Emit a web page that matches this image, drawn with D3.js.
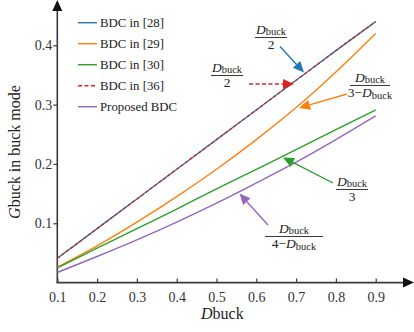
<!DOCTYPE html>
<html>
<head>
<meta charset="utf-8">
<script src="https://cdnjs.cloudflare.com/ajax/libs/d3/7.8.5/d3.min.js"></script>
<style>
  body { margin: 0; background: #fff; }
  svg, svg text { font-family: 'Liberation Serif', 'Times New Roman', serif !important; }
</style>
</head>
<body>
<div id="chart"></div>
<script>
// duty ratio samples
const dBuck = [0.1, 0.2, 0.3, 0.4, 0.5, 0.6, 0.7, 0.8, 0.9];
// gain values
const bdc28 = [0.041, 0.091, 0.141, 0.191, 0.241, 0.291, 0.341, 0.391, 0.440];
const bdc29 = [0.026, 0.062, 0.102, 0.145, 0.191, 0.241, 0.295, 0.355, 0.420];
const bdc30 = [0.025, 0.058, 0.091, 0.124, 0.158, 0.191, 0.224, 0.258, 0.291];
const bdc36 = [0.041, 0.091, 0.141, 0.191, 0.241, 0.291, 0.341, 0.391, 0.440];
const proposed = [0.017, 0.044, 0.072, 0.102, 0.134, 0.168, 0.203, 0.241, 0.281];

const legendLabels = ["BDC in [28]", "BDC in [29]", "BDC in [30]", "BDC in [36]", "Proposed BDC"];
const xTicks = [0.1, 0.2, 0.3, 0.4, 0.5, 0.6, 0.7, 0.8, 0.9];
const yTicks = [0.1, 0.2, 0.3, 0.4];

const W = 414, H = 332;
const colors = { blue: "#1f77b4", orange: "#ff7f0e", green: "#2ca02c", red: "#d62728", purple: "#9467bd" };

const svg = d3.select("#chart").append("svg")
  .attr("width", W).attr("height", H);

const x = d3.scaleLinear().domain([0.1, 0.9]).range([57.3, 375.7]);
const y = d3.scaleLinear().domain([0, 0.4]).range([282.6, 45.3]);

const axisColor = "#3a3a3a";

// y axis line + arrow
svg.append("line").attr("x1", 57.3).attr("x2", 57.3).attr("y1", 283).attr("y2", 8)
  .attr("stroke", axisColor).attr("stroke-width", 1.6);
svg.append("path").attr("d", "M57.3,0 L52.3,11 L62.3,11 Z").attr("fill", "#111");

// x axis line + arrow
svg.append("line").attr("x1", 56.5).attr("x2", 406).attr("y1", 282.6).attr("y2", 282.6)
  .attr("stroke", axisColor).attr("stroke-width", 1.6);
svg.append("path").attr("d", "M414,282.6 L403,277.6 L403,287.6 Z").attr("fill", "#111");

// ticks
const xAxis = d3.axisBottom(x).tickValues(xTicks).tickSize(-4).tickPadding(9.5)
  .tickFormat(d3.format(".1f"));
const gx = svg.append("g").attr("transform", "translate(0,282.6)").call(xAxis)
  .attr("font-size", 14).attr("font-family", null);
gx.select(".domain").remove();
gx.selectAll(".tick line").attr("stroke", axisColor).attr("stroke-width", 1.2);
gx.selectAll(".tick text").attr("fill", "#333");

const yAxis = d3.axisLeft(y).tickValues(yTicks).tickSize(4).tickPadding(1)
  .tickFormat(d3.format(".1f"));
const gy = svg.append("g").attr("transform", "translate(57.3,0)").call(yAxis)
  .attr("font-size", 14).attr("font-family", null);
gy.select(".domain").remove();
gy.selectAll(".tick line").attr("stroke", axisColor).attr("stroke-width", 1.2);
gy.selectAll(".tick text").attr("fill", "#333");

// axis titles
const xt = svg.append("text").attr("x", 201).attr("y", 319).attr("font-size", 16).attr("fill", "#222");
xt.append("tspan").attr("font-style", "italic").text("D");
xt.append("tspan").text("buck");

const yt = svg.append("text").attr("transform", "translate(20,152) rotate(-90)")
  .attr("text-anchor", "middle").attr("font-size", 16).attr("fill", "#222");
yt.append("tspan").attr("font-style", "italic").text("G");
yt.append("tspan").text("buck in buck mode");

// curves
const line = d3.line().x((d, i) => x(dBuck[i])).y(d => y(d)).curve(d3.curveMonotoneX);
const series = [
  { v: bdc28, c: colors.blue, dash: null },
  { v: bdc29, c: colors.orange, dash: null },
  { v: bdc30, c: colors.green, dash: null },
  { v: proposed, c: colors.purple, dash: null },
  { v: bdc36, c: colors.red, dash: "3,2.5" }
];
svg.selectAll(".curve").data(series).enter().append("path")
  .attr("class", "curve")
  .attr("d", d => line(d.v))
  .attr("fill", "none")
  .attr("stroke", d => d.c)
  .attr("stroke-width", 1.4)
  .attr("stroke-dasharray", d => d.dash);

// legend
const legColors = [colors.blue, colors.orange, colors.green, colors.red, colors.purple];
const leg = svg.append("g");
legendLabels.forEach((lab, i) => {
  const ly = 22.7 + i * 21;
  leg.append("line").attr("x1", 78).attr("x2", 97).attr("y1", ly).attr("y2", ly)
    .attr("stroke", legColors[i]).attr("stroke-width", 1.4)
    .attr("stroke-dasharray", i === 3 ? "4,2.5" : null);
  leg.append("text").attr("x", 100).attr("y", ly + 4.5).attr("font-size", 12.8)
    .attr("fill", "#222").text(lab);
});

// fraction label helper
function fraction(cx, yBar, barW, num, den) {
  const g = svg.append("g").attr("fill", "#222");
  const write = (parts, yy) => {
    const t = g.append("text").attr("x", cx).attr("y", yy).attr("text-anchor", "middle");
    parts.forEach(p => {
      t.append("tspan")
        .attr("font-style", p.it ? "italic" : "normal")
        .attr("font-size", p.sub ? 10.5 : 13.5)
        .attr("dy", p.dy || 0)
        .text(p.t);
    });
  };
  write(num, yBar - 4);
  g.append("line").attr("x1", cx - barW / 2).attr("x2", cx + barW / 2)
    .attr("y1", yBar).attr("y2", yBar).attr("stroke", "#222").attr("stroke-width", 0.9);
  write(den, yBar + 11.5);
}
const dNum = [{ t: "D", it: true }, { t: "buck", sub: true, dy: 1.5 }];
const dDen = (pre) => [{ t: pre }, { t: "D", it: true }, { t: "buck", sub: true, dy: 1.5 }];

fraction(271, 37.5, 32, dNum, [{ t: "2" }]);
fraction(227, 75.5, 32, dNum, [{ t: "2" }]);
fraction(370, 85.5, 40, dNum, dDen("3\u2212"));
fraction(352, 189.5, 32, dNum, [{ t: "3" }]);
fraction(294, 236.5, 58, dNum, dDen("4\u2212"));

// arrows
function arrow(x1, y1, x2, y2, col, dash) {
  const ang = Math.atan2(y2 - y1, x2 - x1);
  const L = 11, hw = 5;
  const bx = x2 - L * Math.cos(ang), by = y2 - L * Math.sin(ang);
  svg.append("line").attr("x1", x1).attr("y1", y1).attr("x2", bx).attr("y2", by)
    .attr("stroke", col).attr("stroke-width", 1.4).attr("stroke-dasharray", dash);
  const px = -Math.sin(ang) * hw, py = Math.cos(ang) * hw;
  svg.append("path")
    .attr("d", `M${x2},${y2} L${bx + px},${by + py} L${bx - px},${by - py} Z`)
    .attr("fill", col);
}
arrow(280, 46.5, 304, 72.5, colors.blue);
arrow(249, 84, 294, 84, colors.red, "4,2.5");
arrow(347, 94, 299, 108, colors.orange);
arrow(333, 183, 283, 157.5, colors.green);
arrow(268, 225, 239.5, 193.5, colors.purple);
</script>
</body>
</html>
